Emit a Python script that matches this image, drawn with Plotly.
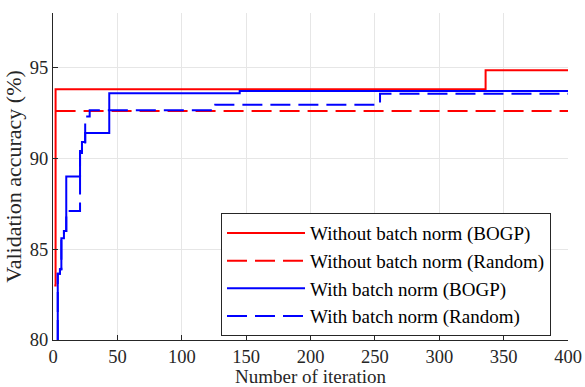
import plotly.graph_objects as go

# Data
it_nobn_bogp = [1, 2, 336, 400]
acc_nobn_bogp = [83.0, 93.8, 94.85, 94.85]

it_nobn_rand = [2, 400]
acc_nobn_rand = [92.6, 92.6]

it_bn_bogp = [3.6, 3.7, 5.4, 6.5, 8.5, 10.3, 21, 22.5, 25, 43.7, 145, 400]
acc_bn_bogp = [80.0, 83.65, 83.9, 85.6, 86.0, 89.0, 90.4, 90.9, 91.4, 93.58, 93.7, 93.7]

it_bn_rand = [3.6, 3.7, 5.4, 6.5, 8.5, 10.3, 21, 22.5, 25, 28.5, 126, 254, 400]
acc_bn_rand = [80.0, 83.65, 83.9, 85.6, 86.0, 87.1, 90.3, 90.8, 92.3, 92.65, 92.95, 93.55, 93.55]

x_ticks = [0, 50, 100, 150, 200, 250, 300, 350, 400]
y_ticks = [80, 85, 90, 95]

FONT = "Liberation Serif"
FS = 18.5
DASH = "20px,8px"

fig = go.Figure()
fig.add_trace(go.Scatter(x=it_nobn_bogp, y=acc_nobn_bogp, mode="lines", line_shape="hv",
                         line=dict(color="#ff0000", width=2),
                         name="Without batch norm (BOGP)"))
fig.add_trace(go.Scatter(x=it_nobn_rand, y=acc_nobn_rand, mode="lines", line_shape="hv",
                         line=dict(color="#ff0000", width=2, dash=DASH),
                         name="Without batch norm (Random)"))
fig.add_trace(go.Scatter(x=it_bn_bogp, y=acc_bn_bogp, mode="lines", line_shape="hv",
                         line=dict(color="#0000ff", width=2),
                         name="With batch norm (BOGP)"))
fig.add_trace(go.Scatter(x=it_bn_rand, y=acc_bn_rand, mode="lines", line_shape="hv",
                         line=dict(color="#0000ff", width=2, dash=DASH),
                         name="With batch norm (Random)"))

fig.update_layout(
    width=585, height=387,
    margin=dict(l=53, r=17, t=13, b=47),
    paper_bgcolor="white", plot_bgcolor="white",
    font=dict(family=FONT, size=FS, color="#262626"),
    showlegend=True,
    legend=dict(x=0.967, y=0.20, xanchor="right", yanchor="middle",
                bgcolor="white", bordercolor="#262626", borderwidth=1,
                font=dict(family=FONT, size=19, color="#000000"),
                tracegroupgap=0, itemwidth=78),
    xaxis=dict(range=[0, 400], tickvals=x_ticks, ticks="inside", ticklen=5,
               tickcolor="#262626", showline=True, linecolor="#262626", linewidth=1,
               showgrid=True, gridcolor="#e6e6e6", gridwidth=1, zeroline=False,
               automargin=False,
               title=dict(text="Number of iteration", standoff=0,
                          font=dict(family=FONT, size=19)),
               tickfont=dict(family=FONT, size=FS)),
    yaxis=dict(range=[80, 98], tickvals=y_ticks, ticks="inside", ticklen=5,
               tickcolor="#262626", showline=True, linecolor="#262626", linewidth=1,
               showgrid=True, gridcolor="#e6e6e6", gridwidth=1, zeroline=False,
               automargin=False,
               title=dict(text="Validation accuracy (%)", standoff=2,
                          font=dict(family=FONT, size=22)),
               tickfont=dict(family=FONT, size=FS)),
)

fig.write_html("out.html")
